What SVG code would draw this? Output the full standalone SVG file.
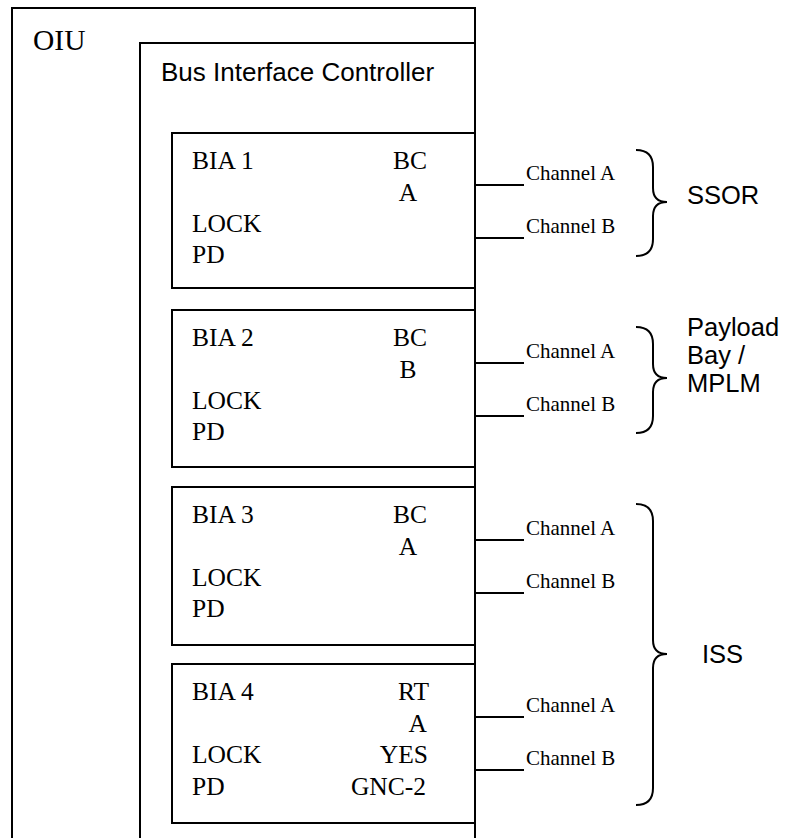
<svg xmlns="http://www.w3.org/2000/svg" width="785" height="838" viewBox="0 0 785 838">
<style>
.box{fill:none;stroke:#000;stroke-width:2}
.ln{fill:none;stroke:#000;stroke-width:2}
.t{font-family:"Liberation Serif","Times New Roman",serif;font-size:25.5px;fill:#000}
.ch{font-family:"Liberation Serif","Times New Roman",serif;font-size:21px;fill:#000}
.s{font-family:"Liberation Sans",Arial,sans-serif;font-size:25.5px;fill:#000}
</style>
<rect width="785" height="838" fill="#fff"/>
<g id="oiu">
<path class="box" d="M12,840 L12,8 L475,8 L475,840"/>
<text class="t" x="33" y="50" style="font-size:29.5px">OIU</text>
</g>
<g id="bic">
<path class="box" d="M140,840 L140,43 L475,43"/>
<text class="s" x="161" y="81" style="font-size:26px">Bus Interface Controller</text>
</g>
<g id="bia1">
<rect class="box" x="172" y="133" width="303" height="155"/>
<text class="t" x="192" y="169">BIA 1</text>
<text class="t" x="427" y="169" text-anchor="end">BC</text>
<text class="t" x="408" y="201" text-anchor="middle">A</text>
<text class="t" x="192" y="232">LOCK</text>
<text class="t" x="192" y="263">PD</text>
</g>
<g id="bia2">
<rect class="box" x="172" y="310" width="303" height="157"/>
<text class="t" x="192" y="346">BIA 2</text>
<text class="t" x="427" y="346" text-anchor="end">BC</text>
<text class="t" x="408" y="378" text-anchor="middle">B</text>
<text class="t" x="192" y="409">LOCK</text>
<text class="t" x="192" y="440">PD</text>
</g>
<g id="bia3">
<rect class="box" x="172" y="487" width="303" height="158"/>
<text class="t" x="192" y="523">BIA 3</text>
<text class="t" x="427" y="523" text-anchor="end">BC</text>
<text class="t" x="408" y="555" text-anchor="middle">A</text>
<text class="t" x="192" y="586">LOCK</text>
<text class="t" x="192" y="617">PD</text>
</g>
<g id="bia4">
<rect class="box" x="172" y="664" width="303" height="159"/>
<text class="t" x="192" y="700">BIA 4</text>
<text class="t" x="429" y="700" text-anchor="end">RT</text>
<text class="t" x="427" y="732" text-anchor="end">A</text>
<text class="t" x="428" y="763" text-anchor="end">YES</text>
<text class="t" x="426" y="795" text-anchor="end">GNC-2</text>
<text class="t" x="192" y="763">LOCK</text>
<text class="t" x="192" y="795">PD</text>
</g>
<g id="connectors">
<path class="ln" d="M475,185 H524 M475,238 H524 M475,363 H524 M475,416 H524 M475,540 H524 M475,593 H524 M475,717 H524 M475,770 H524"/>
<path class="ln" d="M636,150 Q653,150 653,167 L653,188 Q653,202 667,202 Q653,202 653,216 L653,239 Q653,256 636,256"/>
<path class="ln" d="M636,327 Q653,327 653,344 L653,364 Q653,378 667,378 Q653,378 653,392 L653,416 Q653,433 636,433"/>
<path class="ln" d="M636,504 Q653,504 653,521 L653,640 Q653,654 667,654 Q653,654 653,668 L653,788 Q653,805 636,805"/>
</g>
<g id="labels">
<text class="ch" x="526" y="180">Channel A</text>
<text class="ch" x="526" y="233">Channel B</text>
<text class="ch" x="526" y="358">Channel A</text>
<text class="ch" x="526" y="411">Channel B</text>
<text class="ch" x="526" y="535">Channel A</text>
<text class="ch" x="526" y="588">Channel B</text>
<text class="ch" x="526" y="712">Channel A</text>
<text class="ch" x="526" y="765">Channel B</text>
<text class="s" x="687" y="204">SSOR</text>
<text class="s" x="687" y="336">Payload</text>
<text class="s" x="687" y="364">Bay /</text>
<text class="s" x="687" y="392">MPLM</text>
<text class="s" x="702" y="663">ISS</text>
</g>
</svg>
